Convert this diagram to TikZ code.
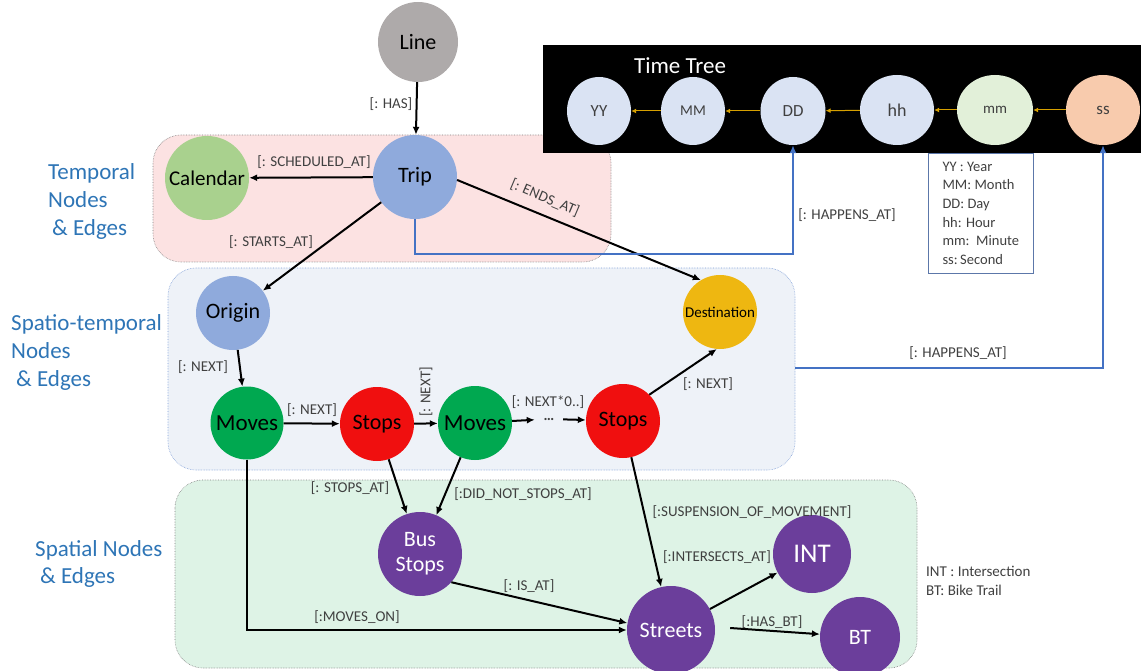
\documentclass[tikz,border=0pt]{standalone}
\usepackage{fontspec}
\setmainfont{Carlito}
\usetikzlibrary{arrows.meta,shapes.geometric}
\definecolor{linegray}{RGB}{174,170,170}
\definecolor{tripblue}{RGB}{143,170,220}
\definecolor{calgreen}{RGB}{169,209,142}
\definecolor{movegreen}{RGB}{0,168,80}
\definecolor{stopred}{RGB}{240,15,15}
\definecolor{destyellow}{RGB}{238,183,17}
\definecolor{purp}{RGB}{107,62,155}
\definecolor{ttblue}{RGB}{218,227,243}
\definecolor{ttgreen}{RGB}{226,240,217}
\definecolor{ttpeach}{RGB}{248,203,173}
\definecolor{labgray}{RGB}{64,64,64}
\definecolor{secblue}{RGB}{46,117,182}
\definecolor{linkblue}{RGB}{68,114,196}
\definecolor{pinkbg}{RGB}{252,226,226}
\definecolor{stbg}{RGB}{238,242,248}
\definecolor{spbg}{RGB}{222,243,230}
\definecolor{ttgold}{RGB}{214,160,0}
\newcommand{\fs}[1]{\fontsize{#1}{#1}\selectfont}
\begin{document}
\begin{tikzpicture}[x=1pt,y=-1pt,
  cnode/.style={circle,inner sep=0pt,text=black},
  pnode/.style={circle,inner sep=0pt,fill=purp,text=white},
  tnode/.style={ellipse,inner sep=0pt,text=labgray},
  arr/.style={-{Latex[length=8pt,width=7pt]},line width=2pt,black},
  blu/.style={-{Latex[length=8pt,width=7pt]},line width=2pt,linkblue},
  tta/.style={-{Latex[length=5pt,width=5pt]},line width=1pt,ttgold},
  lbl/.style={font=\fs{15},text=labgray,inner sep=0pt},
  sec/.style={font=\fs{23},text=secblue,inner sep=0pt,anchor=base west},
  region/.style={rounded corners=28pt,densely dotted,line width=0.6pt}
]
\useasboundingbox (0,0) rectangle (1141,671);
\clip (0,0) rectangle (1141,671);
% region boxes
\draw[region,fill=pinkbg,draw=gray] (153,135) rectangle (611,262);
\draw[region,fill=stbg,draw=linkblue!70] (168,268) rectangle (795,470);
\draw[region,fill=spbg,draw=gray] (175,480) rectangle (917,668);
% section labels
\node[sec] (t1) at (48,180) {Temporal};
\node[sec] (t2) at (48,208) {Nodes};
\node[sec] (t3) at (52,236) {\& Edges};
\node[sec] (s1) at (11,330) {Spatio-temporal};
\node[sec] (s2) at (11,358) {Nodes};
\node[sec] (s3) at (16,386) {\& Edges};
\node[sec] (p1) at (35,556) {Spatial Nodes};
\node[sec] (p2) at (40,583) {\& Edges};
% time tree
\fill[black] (543,45) rectangle (1145,153);
\node[font=\fs{23},text=white,inner sep=0pt] (tt) at (680,66) {Time Tree};
\node[tnode,fill=ttblue,minimum width=64pt,minimum height=68pt,font=\fs{17}] (yy) at (599,111) {YY};
\node[tnode,fill=ttblue,minimum width=64pt,minimum height=68pt,font=\fs{15}] (mmo) at (693,111) {MM};
\node[tnode,fill=ttblue,minimum width=65pt,minimum height=68pt,font=\fs{17}] (dd) at (793,111) {DD};
\node[tnode,fill=ttblue,minimum width=74pt,minimum height=70pt,font=\fs{18}] (hh) at (897,110) {hh};
\node[tnode,fill=ttgreen,minimum width=76pt,minimum height=70pt,font=\fs{15}] (mmi) at (995,110) {mm};
\node[tnode,fill=ttpeach,minimum width=74pt,minimum height=70pt,font=\fs{17}] (ss) at (1103,110) {ss};
\draw[tta] (mmo) -- (yy);
\draw[tta] (dd) -- (mmo);
\draw[tta] (hh) -- (dd);
\draw[tta] (mmi) -- (hh);
\draw[tta] (ss) -- (mmi);
% legend box
\node[draw=linkblue!60!gray,line width=0.6pt,anchor=north west,align=left,font=\fontsize{14.5}{18.6}\selectfont,text=labgray,inner xsep=3pt,inner ysep=2pt,minimum width=105pt,minimum height=120pt] (leg) at (928,153)
 {YY : Year\\ MM: Month\\ DD: Day\\ hh: Hour\\ mm:\ \ Minute\\ ss:\,Second};
% main nodes
\node[cnode,fill=linegray,minimum size=80pt,font=\fs{22}] (line) at (418,42) {Line};
\node[cnode,fill=tripblue,minimum size=84pt,font=\fs{22}] (trip) at (415,177) {Trip};
\node[cnode,fill=calgreen,minimum size=84pt,font=\fs{21}] (cal) at (207,178) {Calendar};
\node[cnode,fill=tripblue,minimum size=74pt,font=\fs{22}] (orig) at (233,313) {Origin};
\node[cnode,fill=movegreen,minimum size=73pt,font=\fs{23}] (mv1) at (247,423) {Moves};
\node[cnode,fill=stopred,minimum size=74pt,font=\fs{22}] (st1) at (377,424) {Stops};
\node[cnode,fill=movegreen,minimum size=74pt,font=\fs{23}] (mv2) at (475,423) {Moves};
\node[inner sep=0pt,minimum width=28pt,font=\fs{15},text=labgray] (dots) at (549,419) {\textbf{\dots}};
\node[cnode,fill=stopred,minimum size=74pt,font=\fs{22}] (st2) at (623,421) {Stops};
\node[cnode,fill=destyellow,minimum size=74pt,font=\fs{15}] (dest) at (720,312) {Destination};
\node[pnode,minimum size=84pt,font=\fs{22},align=center] (bus) at (420,554) {Bus\\[3pt]Stops};
\node[pnode,minimum size=88pt,font=\fs{22}] (str) at (671,630) {Streets};
\node[pnode,minimum size=78pt,font=\fs{27}] (int) at (812,554) {INT};
\node[pnode,minimum size=80pt,font=\fs{22}] (bt) at (860,637) {BT};
% right legend
\node[anchor=base west,font=\fs{15},text=labgray,inner sep=0pt] (lint) at (926,576) {INT : Intersection};
\node[anchor=base west,font=\fs{15},text=labgray,inner sep=0pt] (lbt) at (926,595) {BT: Bike Trail};
% connectors
\draw[arr] (line) -- (trip);
\node[lbl] (lhas) at (391,104) {[: HAS]};
\draw[arr] (trip) -- (cal);
\node[lbl] (lsch) at (314,162) {[: SCHEDULED\_AT]};
\draw[arr] (trip) -- (orig);
\node[lbl] (lsta) at (271,242) {[: STARTS\_AT]};
\draw[arr] (trip.-4) -- (dest.121);
\node[lbl,rotate=-23] (lend) at (545,198) {[: ENDS\_AT]};
\draw[arr] (orig) -- (mv1);
\node[lbl] (ln1) at (203,367) {[: NEXT]};
\draw[arr] (mv1) -- (st1);
\node[lbl] (ln2) at (312,410) {[: NEXT]};
\draw[arr] (st1) -- (mv2);
\node[lbl,rotate=90] (ln3) at (426,392) {[: NEXT]};
\draw[arr] (mv2) -- (dots);
\draw[arr] (dots) -- (st2);
\node[lbl] (ln4) at (548,402) {[: NEXT*0..]};
\draw[arr] (st2.45) -- (dest.-95);
\node[lbl] (ln5) at (708,384) {[: NEXT]};
\draw[blu] (trip.south) -- ++(0,35) -| (dd.south);
\node[lbl] (lh1) at (847,215) {[: HAPPENS\_AT]};
\coordinate (stR) at (795,368);
\draw[blu] (stR) -| (ss.south);
\node[lbl] (lh2) at (958,353) {[: HAPPENS\_AT]};
\draw[arr] (mv1.south) |- (str.west);
\node[lbl] (lmo) at (357,617) {[:MOVES\_ON]};
\draw[arr] (st1) -- (bus);
\node[lbl] (lsa) at (350,488) {[: STOPS\_AT]};
\draw[arr] (mv2) -- (bus);
\node[lbl] (ldn) at (523,494) {[:DID\_NOT\_STOPS\_AT]};
\draw[arr] (bus.-42) -- (str.171);
\node[lbl] (lis) at (529,586) {[: IS\_AT]};
\draw[arr] (st2) -- (str);
\node[lbl] (lsus) at (752,512) {[:SUSPENSION\_OF\_MOVEMENT]};
\draw[arr] (str) -- (int);
\node[lbl] (lint2) at (717,557) {[:INTERSECTS\_AT]};
\path (str.east) ++(15,-2) coordinate (sb);
\draw[arr] (sb) -- (bt);
\node[lbl] (lhb) at (772,622) {[:HAS\_BT]};
\end{tikzpicture}
\end{document}
